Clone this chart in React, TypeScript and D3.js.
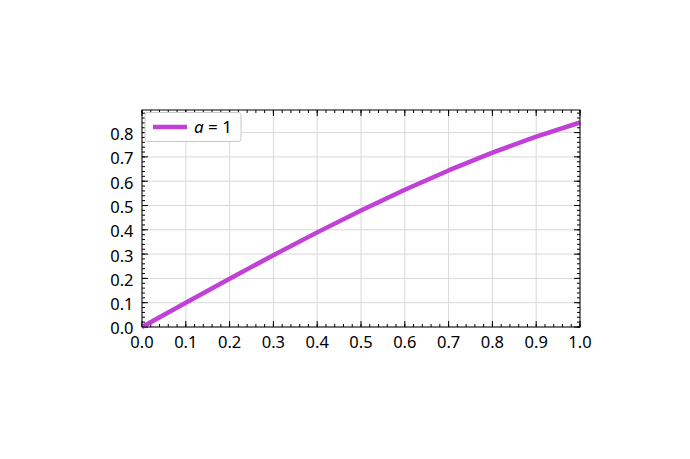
import React from 'react'
import * as d3 from 'd3'

const xValues = [0, 0.1, 0.2, 0.3, 0.4, 0.5, 0.6, 0.7, 0.8, 0.9, 1.0]
const yValues = [0, 0.0998, 0.1987, 0.2955, 0.3894, 0.4794, 0.5646, 0.6442, 0.7174, 0.7833, 0.8415]
const xTicks = [0, 0.1, 0.2, 0.3, 0.4, 0.5, 0.6, 0.7, 0.8, 0.9, 1.0]
const yTicks = [0, 0.1, 0.2, 0.3, 0.4, 0.5, 0.6, 0.7, 0.8]
const seriesLabel = '1'

const width = 690
const height = 459
const margin = { top: 110, right: 110, bottom: 132, left: 142 }
const lineColor = '#c040d8'
const font = '"Noto Sans", "Open Sans", sans-serif'

export default function App() {
    const innerW = width - margin.left - margin.right
    const innerH = height - margin.top - margin.bottom

    const x = d3.scaleLinear().domain([0, 1]).range([0, innerW])
    const y = d3.scaleLinear().domain([0, 0.893]).range([innerH, 0])

    const line = d3
        .line<number>()
        .x((_, i) => x(xValues[i]))
        .y((d) => y(d))

    // minor ticks every 0.02
    const xMinor = d3.range(0, 50.5).map((i) => i * 0.02).filter((v) => v <= 1.0001)
    const yMinor = d3.range(0, 45).map((i) => i * 0.02).filter((v) => v <= 0.893)

    return (
        <svg
            width={width}
            height={height}
            style={{ position: 'absolute', left: 0, top: 0, background: '#fff' }}
            fontFamily={font}
        >
            <g transform={`translate(${margin.left},${margin.top})`}>
                {/* grid */}
                {xTicks.map((t) => (
                    <line key={'gx' + t} x1={x(t)} x2={x(t)} y1={0} y2={innerH} stroke="#d9d9d9" strokeWidth={1} />
                ))}
                {yTicks.map((t) => (
                    <line key={'gy' + t} x1={0} x2={innerW} y1={y(t)} y2={y(t)} stroke="#d9d9d9" strokeWidth={1} />
                ))}

                {/* minor ticks, inward on all sides */}
                {xMinor.map((t, i) => (
                    <g key={'mx' + i}>
                        <line x1={x(t)} x2={x(t)} y1={innerH} y2={innerH - 3} stroke="#000" strokeWidth={1} />
                        <line x1={x(t)} x2={x(t)} y1={0} y2={3} stroke="#000" strokeWidth={1} />
                    </g>
                ))}
                {yMinor.map((t, i) => (
                    <g key={'my' + i}>
                        <line x1={0} x2={3} y1={y(t)} y2={y(t)} stroke="#000" strokeWidth={1} />
                        <line x1={innerW} x2={innerW - 3} y1={y(t)} y2={y(t)} stroke="#000" strokeWidth={1} />
                    </g>
                ))}
                {/* major ticks */}
                {xTicks.map((t) => (
                    <g key={'tx' + t}>
                        <line x1={x(t)} x2={x(t)} y1={innerH} y2={innerH - 6} stroke="#000" strokeWidth={1} />
                        <line x1={x(t)} x2={x(t)} y1={0} y2={6} stroke="#000" strokeWidth={1} />
                        <text x={x(t)} y={innerH + 21} textAnchor="middle" fontSize={16.5} fill="#000">
                            {d3.format('.1f')(t)}
                        </text>
                    </g>
                ))}
                {yTicks.map((t) => (
                    <g key={'ty' + t}>
                        <line x1={0} x2={6} y1={y(t)} y2={y(t)} stroke="#000" strokeWidth={1} />
                        <line x1={innerW} x2={innerW - 6} y1={y(t)} y2={y(t)} stroke="#000" strokeWidth={1} />
                        <text x={-8.5} y={y(t) + 1.5} dy="0.36em" textAnchor="end" fontSize={16.5} fill="#000">
                            {d3.format('.1f')(t)}
                        </text>
                    </g>
                ))}

                {/* series */}
                <path
                    d={line(yValues) ?? ''}
                    fill="none"
                    stroke={lineColor}
                    strokeWidth={4.5}
                    strokeLinejoin="round"
                />

                {/* frame */}
                <rect x={0} y={0} width={innerW} height={innerH} fill="none" stroke="#000" strokeWidth={1} />

                {/* legend */}
                <g transform="translate(3,2.5)">
                    <rect x={0} y={0} width={96} height={29} rx={3} fill="#fff" stroke="#c8c8c8" strokeWidth={1} />
                    <line x1={8} x2={42} y1={14.5} y2={14.5} stroke={lineColor} strokeWidth={4.5} />
                    <text x={49} y={14.5} dy="0.36em" fontSize={17} fill="#000">
                        <tspan fontStyle="italic">a</tspan> = {seriesLabel}
                    </text>
                </g>
            </g>
        </svg>
    )
}
